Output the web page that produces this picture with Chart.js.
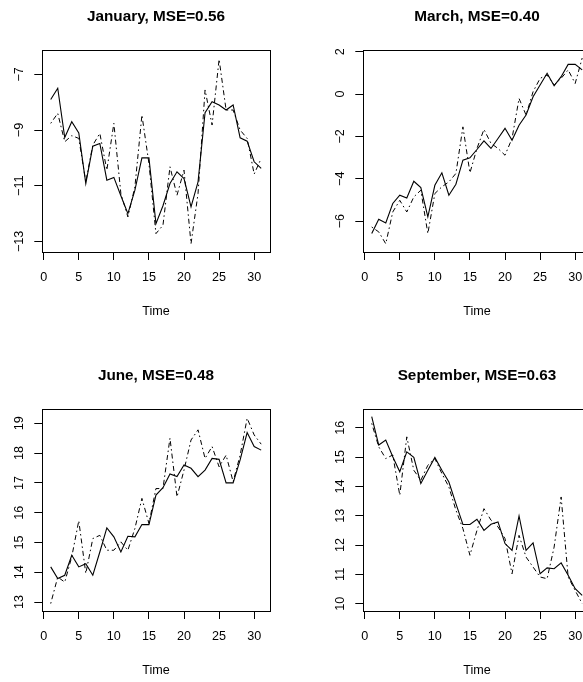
<!DOCTYPE html>
<html>
<head>
<meta charset="utf-8">
<script src="https://cdn.jsdelivr.net/npm/chart.js@4.4.0/dist/chart.umd.min.js"></script>
<style>
  html, body { margin: 0; padding: 0; background: #fff; overflow: hidden; }
  #page { position: relative; width: 583px; height: 682px; overflow: hidden; }
  .panel { position: absolute; width: 321px; height: 359px; }
</style>
</head>
<body>
<div id="page">
  <div class="panel" style="left:0;top:0"><canvas id="janChart" width="321" height="359"></canvas></div>
  <div class="panel" style="left:321px;top:0"><canvas id="marChart" width="321" height="359"></canvas></div>
  <div class="panel" style="left:0;top:359px"><canvas id="junChart" width="321" height="359"></canvas></div>
  <div class="panel" style="left:321px;top:359px"><canvas id="sepChart" width="321" height="359"></canvas></div>
</div>
<script>
// Data
const time = [1, 2, 3, 4, 5, 6, 7, 8, 9, 10, 11, 12, 13, 14, 15, 16, 17, 18, 19, 20, 21, 22, 23, 24, 25, 26, 27, 28, 29, 30, 31];
const xTicks = [0, 5, 10, 15, 20, 25, 30];

const janActual = [-7.90, -7.50, -9.27, -8.70, -9.10, -10.92, -9.58, -9.48, -10.80, -10.70, -11.36, -12.00, -11.16, -10.00, -10.00, -12.36, -11.72, -10.92, -10.50, -10.74, -11.76, -10.86, -8.38, -7.98, -8.10, -8.28, -8.10, -9.28, -9.40, -10.14, -10.38];
const janFitted = [-8.76, -8.40, -9.42, -9.20, -9.30, -10.86, -9.54, -9.12, -10.44, -8.76, -11.28, -12.12, -11.04, -8.46, -10.20, -12.72, -12.42, -10.32, -11.34, -10.44, -13.08, -11.28, -7.56, -8.82, -6.46, -8.28, -8.28, -9.00, -9.30, -10.58, -10.02];
const janTicks = [-13, -11, -9, -7];

const marActual = [-6.59, -5.91, -6.09, -5.17, -4.78, -4.91, -4.12, -4.42, -5.80, -4.31, -3.72, -4.78, -4.26, -3.12, -3.01, -2.62, -2.21, -2.57, -2.10, -1.62, -2.18, -1.47, -0.99, -0.13, 0.43, 0.98, 0.39, 0.82, 1.40, 1.40, 1.14];
const marFitted = [-6.28, -6.51, -7.07, -5.57, -5.02, -5.57, -4.86, -4.54, -6.59, -4.70, -4.38, -4.15, -3.75, -1.55, -3.72, -2.57, -1.67, -2.33, -2.57, -2.89, -2.10, -0.21, -0.99, 0.11, 0.74, 0.90, 0.43, 0.74, 1.14, 0.50, 1.70];
const marTicks = [-6, -4, -2, 0, 2];

const junActual = [14.18, 13.79, 13.90, 14.57, 14.18, 14.29, 13.90, 14.68, 15.49, 15.19, 14.68, 15.21, 15.19, 15.60, 15.60, 16.59, 16.84, 17.30, 17.21, 17.60, 17.49, 17.21, 17.43, 17.82, 17.79, 17.00, 17.00, 17.77, 18.69, 18.22, 18.10];
const junFitted = [12.95, 13.84, 13.67, 14.52, 15.73, 13.96, 15.13, 15.24, 14.74, 14.74, 15.02, 14.74, 15.47, 16.48, 15.64, 16.81, 16.81, 18.50, 16.53, 17.43, 18.44, 18.78, 17.82, 18.22, 17.54, 17.93, 17.04, 17.93, 19.17, 18.61, 18.30];
const junTicks = [13, 14, 15, 16, 17, 18, 19];

const sepActual = [16.38, 15.41, 15.58, 15.01, 14.50, 15.18, 14.99, 14.10, 14.55, 14.99, 14.55, 14.15, 13.41, 12.70, 12.70, 12.88, 12.50, 12.71, 12.79, 12.05, 11.82, 12.99, 11.82, 12.07, 11.02, 11.22, 11.19, 11.39, 10.97, 10.51, 10.28];
const sepFitted = [16.15, 15.35, 14.95, 15.07, 13.70, 15.69, 14.55, 14.21, 14.72, 14.95, 14.44, 13.98, 13.19, 12.56, 11.65, 12.50, 13.24, 12.85, 12.62, 12.22, 11.02, 12.33, 11.59, 11.25, 10.91, 10.85, 11.93, 13.64, 10.91, 10.45, 10.00];
const sepTicks = [10, 11, 12, 13, 14, 15, 16];

const FONT = '"Liberation Sans", Arial, Helvetica, sans-serif';

// Box, bold title and rotated y labels, R style
const panelDecor = {
    id: 'panelDecor',
    afterDraw(chart, args, opts) {
        const { ctx, chartArea: a, scales: { y } } = chart;
        ctx.save();
        ctx.strokeStyle = '#000';
        ctx.lineWidth = 1;
        const l = Math.round(a.left) + 0.5, t = Math.round(a.top) + 0.5;
        ctx.strokeRect(l, t, Math.round(a.right) - Math.round(a.left), Math.round(a.bottom) - Math.round(a.top));

        ctx.fillStyle = '#000';
        ctx.font = 'bold 15.3px ' + FONT;
        ctx.textAlign = 'center';
        ctx.textBaseline = 'alphabetic';
        ctx.fillText(opts.title, (a.left + a.right) / 2, 21);

        ctx.font = '12.6px ' + FONT;
        ctx.textBaseline = 'middle';
        opts.yTicks.forEach(v => {
            ctx.save();
            ctx.translate(19.5, y.getPixelForValue(v));
            ctx.rotate(-Math.PI / 2);
            ctx.fillText(String(v).replace('-', '\u2212'), 0, 0);
            ctx.restore();
        });
        ctx.restore();
    }
};

function makePanel(id, title, actual, fitted, yMin, yMax, yTicks) {
    new Chart(document.getElementById(id), {
        type: 'line',
        data: {
            datasets: [{
                data: time.map((t, i) => ({ x: t, y: actual[i] })),
                borderColor: '#000',
                borderWidth: 1.1,
                pointRadius: 0,
                tension: 0
            }, {
                data: time.map((t, i) => ({ x: t, y: fitted[i] })),
                borderColor: '#000',
                borderWidth: 1,
                borderDash: [1.5, 3, 5, 3],
                pointRadius: 0,
                tension: 0
            }]
        },
        options: {
            responsive: false,
            animation: false,
            devicePixelRatio: 1,
            layout: { padding: { left: 0, top: 50, right: 51.4, bottom: 37 } },
            plugins: {
                legend: { display: false },
                tooltip: { enabled: false },
                panelDecor: { title: title, yTicks: yTicks }
            },
            scales: {
                x: {
                    type: 'linear',
                    min: -0.2,
                    max: 32.2,
                    afterBuildTicks: s => { s.ticks = xTicks.map(v => ({ value: v })); },
                    afterFit: s => { s.height = 70; },
                    grid: { drawOnChartArea: false, drawTicks: true, tickLength: 8, color: '#000' },
                    border: { display: false },
                    ticks: { color: '#000', padding: 10, maxRotation: 0, font: { family: FONT, size: 12.6 } },
                    title: { display: true, text: 'Time', color: '#000', padding: { top: 0, bottom: 3 }, font: { family: FONT, size: 12.6 } }
                },
                y: {
                    type: 'linear',
                    min: yMin,
                    max: yMax,
                    afterBuildTicks: s => { s.ticks = yTicks.map(v => ({ value: v })); },
                    afterFit: s => { s.width = 42.3; },
                    grid: { drawOnChartArea: false, drawTicks: true, tickLength: 8, color: '#000' },
                    border: { display: false },
                    ticks: { display: false }
                }
            }
        },
        plugins: [panelDecor]
    });
}

makePanel('janChart', 'January, MSE=0.56', janActual, janFitted, -13.38, -6.125, janTicks);
makePanel('marChart', 'March, MSE=0.40', marActual, marFitted, -7.46, 2.08, marTicks);
makePanel('junChart', 'June, MSE=0.48', junActual, junFitted, 12.70, 19.48, junTicks);
makePanel('sepChart', 'September, MSE=0.63', sepActual, sepFitted, 9.75, 16.64, sepTicks);
</script>
</body>
</html>
